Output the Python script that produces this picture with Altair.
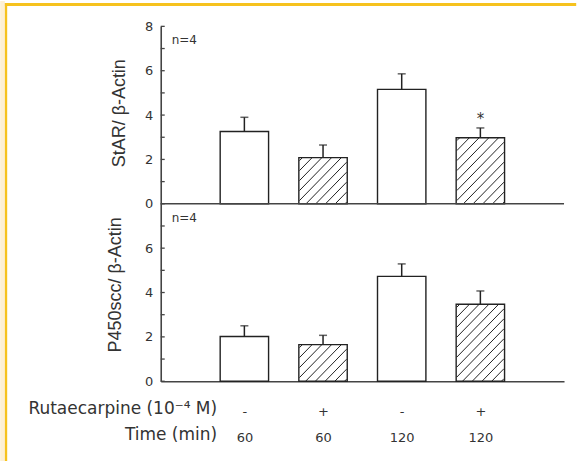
import altair as alt
import pandas as pd
import numpy as np

# ---- data ----
positions = [1, 2, 3, 4]
rutaecarpine = ["-", "+", "-", "+"]
time_min = ["60", "60", "120", "120"]
hatched = [False, True, False, True]

star_mean = [3.26, 2.08, 5.16, 2.98]
star_err = [0.64, 0.57, 0.70, 0.44]
star_sig = ["", "", "", "*"]

p450_mean = [2.02, 1.65, 4.73, 3.47]
p450_err = [0.48, 0.42, 0.56, 0.60]
p450_sig = ["", "", "", ""]

panel_titles = ["StAR/ \u03b2-Actin", "P450scc/ \u03b2-Actin"]
panel_notes = ["n=4", "n=4"]
y_tick_values = list(range(0, 17))
x_title = ["Rutaecarpine (10\u207b\u2074 M)", "Time (min)"]

# ---- layout constants ----
W, H = 404, 355.5
PX_X = W / 5.0
PX_Y = H / 16.0
BAR_UNITS = 0.6
HATCH_STEP = 10.0

rows = []
for offset, means, errs, sigs in [(8, star_mean, star_err, star_sig), (0, p450_mean, p450_err, p450_sig)]:
    for p, m, e, s, h in zip(positions, means, errs, sigs, hatched):
        rows.append(dict(pos=p, y=m + offset, y0=offset, yerr=m + e + offset, sig=s, hatch=h))
df = pd.DataFrame(rows)

# hatch segments derived from the bar values
segs = []
for r in rows:
    if not r["hatch"]:
        continue
    wpx = BAR_UNITS * PX_X
    hpx = (r["y"] - r["y0"]) * PX_Y
    left = r["pos"] - BAR_UNITS / 2
    for x0 in np.arange(-hpx + 3, wpx, HATCH_STEP):
        xa = max(0.0, x0)
        xb = min(wpx, x0 + hpx)
        if xb - xa < 0.5:
            continue
        segs.append(dict(pos=left + xa / PX_X, x2=left + xb / PX_X,
                         y=r["y0"] + (xa - x0) / PX_Y, yy2=r["y0"] + (xb - x0) / PX_Y))
hdf = pd.DataFrame(segs)

xs = alt.Scale(domain=[0, 5], nice=False, zero=False)
ys = alt.Scale(domain=[0, 16], nice=False, zero=False)

label_expr = " : ".join(
    f"datum.value == {p} ? ['{r}', '{t}']" for p, r, t in zip(positions, rutaecarpine, time_min)
) + " : ''"

TXT = "#333333"
LINE = "#222222"

xaxis = alt.Axis(
    values=positions, labelExpr=label_expr, labelFont="DejaVu Sans", labelFontSize=13,
    labelColor=TXT, labelLineHeight=26, labelBaseline="alphabetic", labelPadding=34,
    ticks=False, tickSize=0, domain=True, domainColor="#444444", domainWidth=1.6, grid=False,
    title=x_title, titleFont="DejaVu Sans", titleFontSize=17, titleFontWeight="normal",
    titleColor=TXT, titleAlign="right", titleAnchor="start", titleX=56, titleY=32,
    titleBaseline="alphabetic", titleLineHeight=26)
yaxis = alt.Axis(
    values=list(range(0, 17, 2)), labelExpr="datum.value >= 8 ? datum.value - 8 : datum.value",
    labelFont="DejaVu Sans", labelFontSize=13, labelColor=TXT, labelPadding=8,
    ticks=False, tickSize=0, domain=True, domainColor="#444444", domainWidth=1.6,
    grid=False, title=None)

def X(field):
    return alt.X(field, scale=xs, axis=xaxis)

def Y(field):
    return alt.Y(field, scale=ys, axis=yaxis)

one = pd.DataFrame({"a": [0]})

frame_cream = alt.Chart(one).mark_rect(color="#FDF0D4").encode(
    x=alt.value(-160.8), x2=alt.value(-156.1), y=alt.value(-25.5), y2=alt.value(H + 80))
frame_yv = alt.Chart(one).mark_rect(color="#F6C21E").encode(
    x=alt.value(-156.1), x2=alt.value(-153.8), y=alt.value(-23.5), y2=alt.value(H + 80))
frame_yh = alt.Chart(one).mark_rect(color="#F6C21E").encode(
    x=alt.value(-156.1), x2=alt.value(416.2), y=alt.value(-23.5), y2=alt.value(-20.5))

bars = alt.Chart(df).mark_bar(size=BAR_UNITS * PX_X, fill="white", stroke=LINE, strokeWidth=1.4).encode(
    x=X("pos:Q"), y=Y("y:Q"), y2="y0:Q")

hatch = alt.Chart(hdf).mark_rule(color=LINE, strokeWidth=1).encode(
    x=X("pos:Q"), x2="x2:Q", y=Y("y:Q"), y2="yy2:Q")

err = alt.Chart(df).mark_rule(color=LINE, strokeWidth=1.5).encode(
    x=X("pos:Q"), y=Y("y:Q"), y2="yerr:Q")

caps = alt.Chart(df).mark_tick(orient="horizontal", size=8, thickness=1.5, color=LINE).encode(
    x=X("pos:Q"), y=Y("yerr:Q"))

stars = alt.Chart(df).mark_text(dy=-9, fontSize=15, font="DejaVu Sans", color=TXT).encode(
    x=X("pos:Q"), y=Y("yerr:Q"), text="sig:N")

ticks = alt.Chart(pd.DataFrame({"y": y_tick_values})).mark_rule(color="#444444", strokeWidth=1.3).encode(
    y=Y("y:Q"), x=alt.value(0), x2=alt.value(4))

baseline = alt.Chart(pd.DataFrame({"y": [8]})).mark_rule(color="#444444", strokeWidth=1.6).encode(
    y=Y("y:Q"), x=alt.value(0), x2=alt.value(W))

note_top = alt.Chart(one).mark_text(align="left", baseline="middle", fontSize=12,
                                    font="DejaVu Sans", color=TXT, text=panel_notes[0]).encode(
    x=alt.value(11), y=alt.value(14))
note_bot = alt.Chart(one).mark_text(align="left", baseline="middle", fontSize=12,
                                    font="DejaVu Sans", color=TXT, text=panel_notes[1]).encode(
    x=alt.value(11), y=alt.value(191.5))

ttl_top = alt.Chart(one).mark_text(angle=270, align="center", baseline="alphabetic", fontSize=18,
                                   font="Liberation Sans", color=TXT, text=panel_titles[0]).encode(
    x=alt.value(-35.8), y=alt.value(87))
ttl_bot = alt.Chart(one).mark_text(angle=270, align="center", baseline="alphabetic", fontSize=18,
                                   font="Liberation Sans", color=TXT, text=panel_titles[1]).encode(
    x=alt.value(-39.4), y=alt.value(259))

chart = alt.layer(
    frame_cream, frame_yv, frame_yh, bars, hatch, err, caps, stars, ticks, baseline,
    note_top, note_bot, ttl_top, ttl_bot
).properties(width=W, height=H, background="white", padding=0).configure_view(stroke=None)

chart.save("out.html", embed_options={"renderer": "svg", "actions": False})
